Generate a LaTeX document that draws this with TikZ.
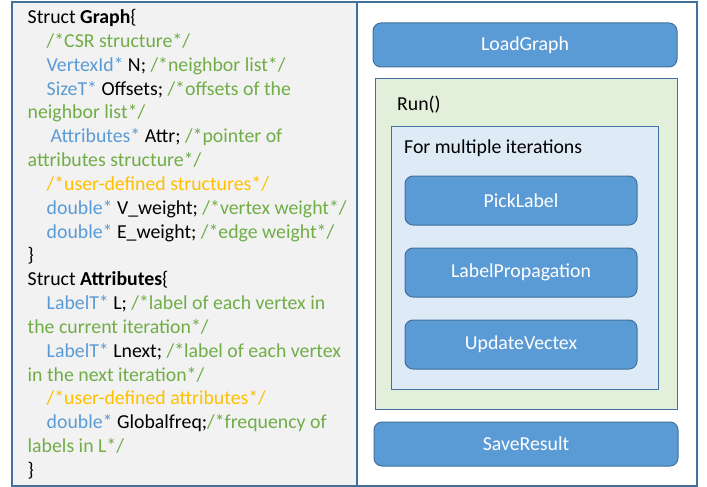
\documentclass[tikz,border=0pt]{standalone}
\usepackage{fontspec}
\setmainfont{Carlito}
\usetikzlibrary{positioning}
\definecolor{edgeblue}{HTML}{41719C}
\definecolor{boxblue}{HTML}{5B9BD5}
\definecolor{typeblue}{HTML}{5B9BD5}
\definecolor{cmtgreen}{HTML}{70AD47}
\definecolor{udorange}{HTML}{FFC000}
\definecolor{panelgray}{HTML}{F2F2F2}
\definecolor{rungreen}{HTML}{E2EFDA}
\definecolor{loopblue}{HTML}{DEEBF7}
\newcommand{\ty}[1]{\textcolor{typeblue}{#1}}
\newcommand{\cm}[1]{\textcolor{cmtgreen}{#1}}
\newcommand{\ud}[1]{\textcolor{udorange}{#1}}
\tikzset{
  codeline/.style={anchor=base west, inner sep=0pt, font=\fontsize{19.8}{23.8}\selectfont},
  funcbox/.style={draw=edgeblue, line width=1pt, fill=boxblue, rounded corners=8pt,
    text=white, font=\fontsize{19.8}{23.8}\selectfont, inner sep=0pt},
  panel/.style={draw=edgeblue, line width=1.6pt, inner sep=0pt, anchor=north west},
  frame/.style={draw=edgeblue, line width=0.9pt, inner sep=0pt, anchor=north west},
  caption/.style={anchor=west, inner sep=0pt, font=\fontsize{19.8}{23.8}\selectfont}
}
\begin{document}
\begin{tikzpicture}[x=1pt,y=-1pt]
\useasboundingbox (0,0) rectangle (707,487);
% two panels
\node[panel, fill=panelgray, minimum width=345pt, minimum height=484pt] (code) at (11,1) {};
\node[panel, fill=white, minimum width=340pt, minimum height=484pt] (flow) at (356,1) {};
% code listing
\foreach \txt [count=\i] in {
  {Struct \textbf{Graph}\{},
  {\hspace*{19pt}\cm{/*CSR structure*/}},
  {\hspace*{19pt}\ty{VertexId*} N; \cm{/*neighbor list*/}},
  {\hspace*{19pt}\ty{SizeT*} Offsets; \cm{/*offsets of the}},
  {\cm{neighbor list*/}},
  {\hspace*{23pt}\ty{Attributes*} Attr; \cm{/*pointer of}},
  {\cm{attributes structure*/}},
  {\hspace*{19pt}\ud{/*user-defined structures*/}},
  {\hspace*{19pt}\ty{double*} V\_weight; \cm{/*vertex weight*/}},
  {\hspace*{19pt}\ty{double*} E\_weight; \cm{/*edge weight*/}},
  {\}},
  {Struct \textbf{Attributes}\{},
  {\hspace*{19pt}\ty{LabelT*} L; \cm{/*label of each vertex in}},
  {\cm{the current iteration*/}},
  {\hspace*{19pt}\ty{LabelT*} Lnext; \cm{/*label of each vertex}},
  {\cm{in the next iteration*/}},
  {\hspace*{19pt}\ud{/*user-defined attributes*/}},
  {\hspace*{19pt}\ty{double*} Globalfreq;\cm{/*frequency of}},
  {\cm{labels in L*/}},
  {\}}}
  \node[codeline] (line\i) at (27.5, {23.5+23.84*(\i-1)}) {\txt};
% flow side
\node[funcbox, minimum width=304pt, minimum height=44pt] (load) at (525,45) {LoadGraph};
\node[frame, fill=rungreen, minimum width=302pt, minimum height=331pt] (run) at (375,78) {};
\node[caption] (runlbl) at (397,105) {Run()};
\node[frame, fill=loopblue, minimum width=267pt, minimum height=263pt] (loop) at (391,126) {};
\node[caption] (looplbl) at (404,148) {For multiple iterations};
\node[funcbox, minimum width=232pt, minimum height=49pt] (pick) at (521,200.5) {PickLabel};
\node[funcbox, minimum width=232pt, minimum height=49pt, below=22pt of pick] (prop) {LabelPropagation};
\node[funcbox, minimum width=232pt, minimum height=49pt, below=22pt of prop] (update) {UpdateVectex};
\node[funcbox, minimum width=304pt, minimum height=44pt] (save) at (526,444) {SaveResult};
\end{tikzpicture}
\end{document}
